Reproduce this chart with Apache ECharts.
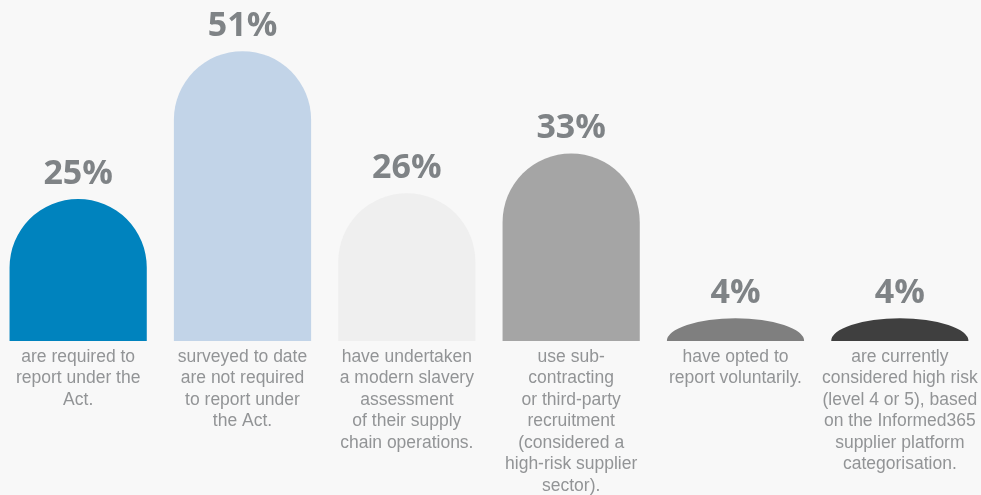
<!DOCTYPE html>
<html>
<head>
<meta charset="utf-8">
<script src="https://cdn.jsdelivr.net/npm/echarts@6/dist/echarts.min.js"></script>
<style>
html,body{margin:0;padding:0;background:#f8f8f8;}
#chart{width:981px;height:495px;}
</style>
</head>
<body>
<div id="chart"></div>
<script>
var categories = [
  "are required to\nreport under the\nAct.",
  "surveyed to date\nare not required\nto report under\nthe Act.",
  "have undertaken\na modern slavery\nassessment\nof their supply\nchain operations.",
  "use sub-\ncontracting\nor third-party\nrecruitment\n(considered a\nhigh-risk supplier\nsector).",
  "have opted to\nreport voluntarily.",
  "are currently\nconsidered high risk\n(level 4 or 5), based\non the Informed365\nsupplier platform\ncategorisation."
];
var values = [25, 51, 26, 33, 4, 4];
var barColors = ["#0083be", "#c2d4e8", "#efefef", "#a5a5a5", "#7f7f7f", "#3f3f3f"];

var chart = echarts.init(document.getElementById('chart'), null, {renderer: 'canvas'});

function renderItem(params, api) {
  var idx = params.dataIndex;
  var v = api.value(1);
  var top = api.coord([api.value(0), v]);
  var base = api.coord([api.value(0), 0]);
  var bandW = api.size([1, 0])[0];
  var w = bandW * 0.835;
  var cx = top[0];
  var x0 = cx - w / 2, x1 = cx + w / 2;
  var yTop = top[1], yBase = base[1];
  var h = yBase - yTop;
  var rx = w / 2;
  var ry = Math.min(rx, h);
  var d = 'M' + x0 + ' ' + yBase +
          ' L' + x0 + ' ' + (yTop + ry) +
          ' A' + rx + ' ' + ry + ' 0 0 1 ' + x1 + ' ' + (yTop + ry) +
          ' L' + x1 + ' ' + yBase + ' Z';
  return {
    type: 'group',
    children: [
      {
        type: 'path',
        shape: {pathData: d, x: x0, y: yTop, width: w, height: h, layout: 'cover'},
        style: {fill: barColors[idx]}
      },
      {
        type: 'text',
        style: {
          text: values[idx] + '%',
          x: cx,
          y: yTop - 8,
          align: 'center',
          verticalAlign: 'bottom',
          fontFamily: 'Open Sans',
          fontWeight: 'bold',
          fontSize: 34,
          fill: '#7f8386'
        }
      }
    ]
  };
}

chart.setOption({
  backgroundColor: '#f8f8f8',
  animation: false,
  grid: {left: -4, right: -1, top: 0, bottom: 154, containLabel: false, outerBoundsMode: 'none'},
  xAxis: {
    type: 'category',
    data: categories,
    axisLine: {show: false},
    axisTick: {show: false},
    axisLabel: {
      interval: 0,
      margin: 5,
      color: '#929496',
      fontFamily: 'Liberation Sans',
      fontSize: 17.5,
      lineHeight: 21.5,
      align: 'center'
    }
  },
  yAxis: {
    type: 'value',
    min: 0,
    max: 60,
    show: false,
    splitLine: {show: false}
  },
  series: [{
    type: 'custom',
    renderItem: renderItem,
    data: values.map(function (v, i) { return [i, v]; })
  }]
});
</script>
</body>
</html>
